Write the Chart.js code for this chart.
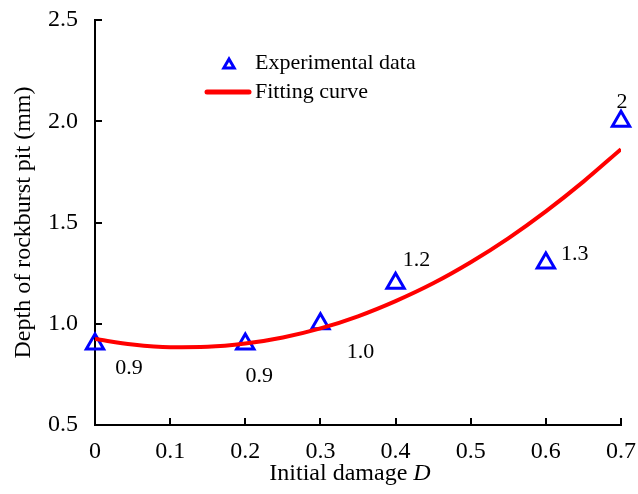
<!DOCTYPE html>
<html>
<head>
<meta charset="utf-8">
<title>Depth of rockburst pit vs initial damage</title>
<script src="https://cdn.jsdelivr.net/npm/chart.js@4.4.1/dist/chart.umd.min.js"></script>
<style>
  html, body { margin: 0; padding: 0; background: #fff; }
</style>
</head>
<body>
<canvas id="pit-chart" width="638" height="494"></canvas>
<script>
// measured points
var initialDamage = [0, 0.2, 0.3, 0.4, 0.6, 0.7];
var pitDepth = [0.9, 0.9, 1.0, 1.2, 1.3, 2.0];
var pitDepthLabels = ["0.9", "0.9", "1.0", "1.2", "1.3", "2"];

// fitted curve, sampled every 0.05
var fitDamage = [0, 0.05, 0.1, 0.15, 0.2, 0.25, 0.3, 0.35, 0.4, 0.45, 0.5, 0.55, 0.6, 0.65, 0.7];
var fitDepth = [0.925, 0.897, 0.884, 0.886, 0.902, 0.932, 0.977, 1.037, 1.112, 1.200, 1.304, 1.422, 1.555, 1.702, 1.862];

var xTickValues = [0, 0.1, 0.2, 0.3, 0.4, 0.5, 0.6, 0.7];
var yTickValues = [0.5, 1.0, 1.5, 2.0, 2.5];

var serif = '"Liberation Serif", "Times New Roman", serif';

// where each value label sits relative to its triangle
var labelOffsets = [[34, 24], [14, 32], [40, 28], [21, -23], [29, -9], [1, -19]];

var experimentalData = initialDamage.map(function(x, i) {
    return { x: x, y: pitDepth[i] };
});
var fittingData = fitDamage.map(function(x, i) {
    return { x: x, y: fitDepth[i] };
});

// ticks point into the plot area
var innerTicks = {
    id: 'innerTicks',
    afterDatasetsDraw: function(chart) {
        var ctx = chart.ctx;
        var area = chart.chartArea;
        var xs = chart.scales.x, ys = chart.scales.y;
        ctx.save();
        ctx.strokeStyle = '#000';
        ctx.lineWidth = 2;
        ctx.beginPath();
        xTickValues.forEach(function(v) {
            var px = Math.round(xs.getPixelForValue(v));
            ctx.moveTo(px, area.bottom);
            ctx.lineTo(px, area.bottom - 7);
        });
        yTickValues.forEach(function(v) {
            var py = Math.round(ys.getPixelForValue(v));
            ctx.moveTo(area.left, py);
            ctx.lineTo(area.left + 7, py);
        });
        ctx.stroke();
        ctx.restore();
    }
};

// value labels next to the experimental points
var valueLabels = {
    id: 'valueLabels',
    afterDatasetsDraw: function(chart) {
        var ctx = chart.ctx;
        var meta = chart.getDatasetMeta(0);
        ctx.save();
        ctx.font = '22px ' + serif;
        ctx.fillStyle = '#000';
        ctx.textAlign = 'center';
        ctx.textBaseline = 'middle';
        meta.data.forEach(function(pt, i) {
            ctx.fillText(pitDepthLabels[i], pt.x + labelOffsets[i][0], pt.y + labelOffsets[i][1]);
        });
        ctx.restore();
    }
};

// legend inside the plot, plus the x title with italic D
var legendAndTitle = {
    id: 'legendAndTitle',
    afterDraw: function(chart) {
        var ctx = chart.ctx;
        var area = chart.chartArea;
        var pts = chart.data.datasets[0];
        var fit = chart.data.datasets[1];
        ctx.save();

        ctx.strokeStyle = pts.borderColor;
        ctx.fillStyle = 'rgba(0,0,0,0)';
        ctx.lineWidth = 3;
        Chart.helpers.drawPoint(ctx, { pointStyle: 'triangle', radius: 6, borderWidth: 3, rotation: 0 }, 229, 65);

        ctx.strokeStyle = fit.borderColor;
        ctx.lineWidth = 5;
        ctx.lineCap = 'round';
        ctx.beginPath();
        ctx.moveTo(207, 92);
        ctx.lineTo(249, 92);
        ctx.stroke();

        ctx.fillStyle = '#000';
        ctx.font = '22px ' + serif;
        ctx.textAlign = 'left';
        ctx.textBaseline = 'middle';
        ctx.fillText(pts.label, 255, 63);
        ctx.fillText(fit.label, 255, 92);

        var plain = 'Initial damage ';
        ctx.font = '24px ' + serif;
        var w1 = ctx.measureText(plain).width;
        ctx.font = 'italic 24px ' + serif;
        var w2 = ctx.measureText('D').width;
        var startX = (area.left + area.right) / 2 - 8 - (w1 + w2) / 2;
        var ty = 474;
        ctx.font = '24px ' + serif;
        ctx.fillText(plain, startX, ty);
        ctx.font = 'italic 24px ' + serif;
        ctx.fillText('D', startX + w1, ty);
        ctx.restore();
    }
};

var context = document.getElementById('pit-chart');
window.pitChart = new Chart(context, {
    type: 'scatter',
    data: {
        datasets: [
            {
                label: 'Experimental data',
                data: experimentalData,
                pointStyle: 'triangle',
                pointRadius: 10,
                pointHoverRadius: 10,
                pointBorderWidth: 3,
                borderColor: '#0000FF',
                backgroundColor: 'rgba(0,0,0,0)',
                clip: false,
                order: 1
            },
            {
                label: 'Fitting curve',
                data: fittingData,
                showLine: true,
                borderColor: '#FF0000',
                borderWidth: 4,
                pointRadius: 0,
                pointHoverRadius: 0,
                cubicInterpolationMode: 'monotone',
                fill: false,
                order: 0
            }
        ]
    },
    options: {
        responsive: false,
        animation: false,
        layout: { padding: { left: 0, right: 17, top: 20, bottom: 0 } },
        plugins: {
            legend: { display: false },
            tooltip: { enabled: false }
        },
        scales: {
            x: {
                type: 'linear',
                min: 0,
                max: 0.7,
                afterBuildTicks: function(scale) {
                    scale.ticks = xTickValues.map(function(v) { return { value: v }; });
                },
                afterFit: function(scale) {
                    scale.height = 69;
                    scale.paddingLeft = 0;
                    scale.paddingRight = 0;
                },
                ticks: {
                    color: '#000',
                    font: { family: serif, size: 24 },
                    padding: 12,
                    maxRotation: 0,
                    autoSkip: false,
                    callback: function(v) { return v === 0 ? '0' : v.toFixed(1); }
                },
                grid: { drawOnChartArea: false, drawTicks: false },
                border: { color: '#000', width: 2 }
            },
            y: {
                type: 'linear',
                min: 0.5,
                max: 2.5,
                afterBuildTicks: function(scale) {
                    scale.ticks = yTickValues.map(function(v) { return { value: v }; });
                },
                afterFit: function(scale) {
                    scale.width = 95;
                    scale.paddingTop = 0;
                    scale.paddingBottom = 0;
                },
                ticks: {
                    color: '#000',
                    font: { family: serif, size: 24 },
                    padding: 17,
                    autoSkip: false,
                    callback: function(v) { return v.toFixed(1); }
                },
                grid: { drawOnChartArea: false, drawTicks: false },
                border: { color: '#000', width: 2 },
                title: {
                    display: true,
                    text: 'Depth of rockburst pit (mm)',
                    color: '#000',
                    font: { family: serif, size: 24 },
                    padding: { top: 9, bottom: 0 }
                }
            }
        }
    },
    plugins: [innerTicks, valueLabels, legendAndTitle]
});
</script>
</body>
</html>
